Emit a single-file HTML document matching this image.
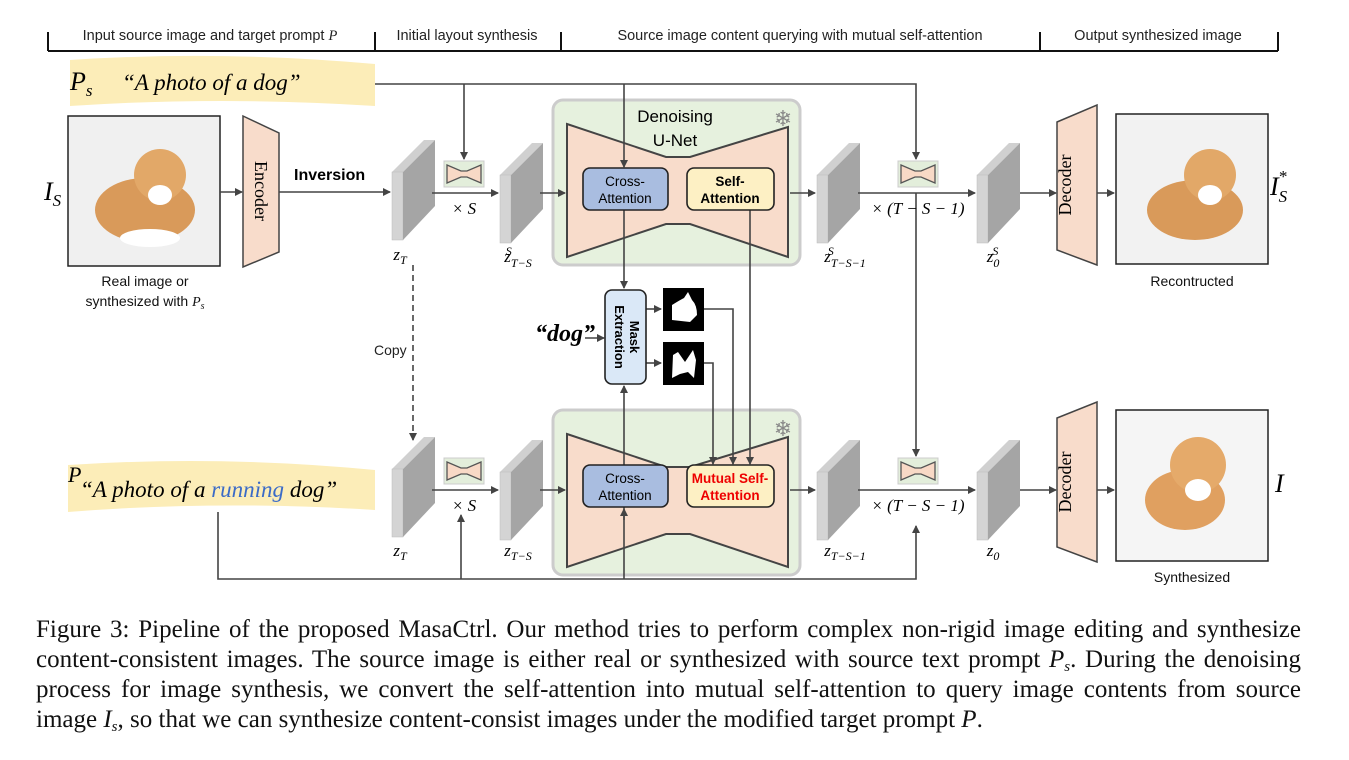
<!DOCTYPE html>
<html><head><meta charset="utf-8"><style>
body{margin:0;background:#fff;width:1349px;height:760px;overflow:hidden}
svg{position:absolute;left:0;top:0}
.cap{position:absolute;left:36px;top:615px;width:1265px;font-family:"Liberation Serif",serif;font-size:25px;line-height:30px;color:#111}
.cap div{text-align:justify;text-align-last:justify;white-space:nowrap;height:30px}
.cap div.l{text-align-last:left}
.cap sub{font-size:15px;line-height:0;vertical-align:-4px}
</style></head><body>
<svg width="1349" height="760" viewBox="0 0 1349 760" font-family="Liberation Sans, sans-serif">
<defs>
<marker id="a" markerWidth="8" markerHeight="8" refX="7" refY="4" orient="auto" markerUnits="userSpaceOnUse"><path d="M0,0 L8,4 L0,8z" fill="#444"/></marker>
<g id="slab"><path d="M0,32 L32,0 L43,0 L11,32z" fill="#d0d0d0"/><rect x="0" y="32" width="11" height="68" fill="#d4d4d4" stroke="#bbb" stroke-width="0.5"/><path d="M11,32 L43,0 L43,66 L11,100z" fill="#a5a5a5"/></g>
<g id="mini"><rect x="0" y="0" width="40" height="26" fill="#e3eedb" stroke="#ccc"/><path d="M3,4 L17,10 L23,10 L37,4 L37,22 L23,16 L17,16 L3,22z" fill="#f8d9c6" stroke="#555" stroke-width="1.3"/></g>
<g id="unet"><rect x="0" y="0" width="247" height="165" rx="10" fill="#e6f1de" stroke="#ccc" stroke-width="3"/><path d="M14,24 L113,57 L137,57 L235,27 L235,157 L137,124 L113,124 L14,157z" fill="#f8dccb" stroke="#444" stroke-width="2"/><text x="230" y="26" font-size="22" fill="#888" text-anchor="middle">❄</text></g>
</defs>
<g stroke="#111" stroke-width="2"><line x1="48" y1="51" x2="1278" y2="51"/><line x1="48" y1="32" x2="48" y2="51"/><line x1="375" y1="32" x2="375" y2="51"/><line x1="561" y1="32" x2="561" y2="51"/><line x1="1040" y1="32" x2="1040" y2="51"/><line x1="1278" y1="32" x2="1278" y2="51"/></g>
<g font-size="14.5" fill="#222" text-anchor="middle"><text x="210" y="40">Input source image and target prompt <tspan font-family="Liberation Serif" font-style="italic">P</tspan></text><text x="467" y="40">Initial layout synthesis</text><text x="800" y="40">Source image content querying with mutual self-attention</text><text x="1158" y="40">Output synthesized image</text></g>
<path d="M70,60 Q220,50 375,64 L375,106 Q220,96 70,106z" fill="#fcedb8"/>
<path d="M68,465 Q220,455 375,470 L375,510 Q220,500 68,512z" fill="#fcedb8"/>
<text x="70" y="90" font-family="Liberation Serif" font-style="italic" font-size="26">P<tspan font-size="17" dy="6">s</tspan></text>
<text x="122" y="90" font-family="Liberation Serif" font-style="italic" font-size="23">“A photo of a dog”</text>
<text x="68" y="482" font-family="Liberation Serif" font-style="italic" font-size="22">P</text>
<text x="80" y="497" font-family="Liberation Serif" font-style="italic" font-size="23">“A photo of a <tspan fill="#3b6bc7">running</tspan> dog”</text>
<rect x="68" y="116" width="152" height="150" fill="#f0f0f0" stroke="#222" stroke-width="1.5"/>
<ellipse cx="145" cy="210" rx="50" ry="32" fill="#d99a5a"/><circle cx="160" cy="175" r="26" fill="#e2a868"/><ellipse cx="160" cy="195" rx="12" ry="10" fill="#fff"/><ellipse cx="150" cy="238" rx="30" ry="9" fill="#fff"/>
<rect x="1116" y="114" width="152" height="150" fill="#f2f2f2" stroke="#222" stroke-width="1.5"/>
<ellipse cx="1195" cy="210" rx="48" ry="30" fill="#d99a5a"/><circle cx="1210" cy="175" r="26" fill="#e2a868"/><ellipse cx="1210" cy="195" rx="12" ry="10" fill="#fff"/>
<rect x="1116" y="410" width="152" height="151" fill="#f5f5f5" stroke="#222" stroke-width="1.5"/>
<ellipse cx="1185" cy="500" rx="40" ry="30" fill="#e0a060"/><circle cx="1198" cy="465" r="28" fill="#e5aa6a"/><ellipse cx="1198" cy="490" rx="13" ry="11" fill="#fff"/>
<text x="44" y="200" font-family="Liberation Serif" font-style="italic" font-size="26">I<tspan font-size="17" dy="6">S</tspan></text>
<text x="1270" y="195" font-family="Liberation Serif" font-style="italic" font-size="26">I<tspan font-size="17" dy="7">S</tspan><tspan font-size="17" dx="-9" dy="-20">*</tspan></text>
<text x="1275" y="492" font-family="Liberation Serif" font-style="italic" font-size="26">I</text>
<g font-size="14" text-anchor="middle" fill="#111"><text x="145" y="286">Real image or</text><text x="145" y="306">synthesized with <tspan font-family="Liberation Serif" font-style="italic">P<tspan font-size="10" dy="3">s</tspan></tspan></text><text x="1192" y="286">Recontructed</text><text x="1192" y="582">Synthesized</text></g>
<path d="M243,116 L279,133 L279,252 L243,267z" fill="#f8dccb" stroke="#444" stroke-width="1.5"/>
<text transform="translate(255,191) rotate(90)" font-family="Liberation Serif" font-size="18" text-anchor="middle">Encoder</text>
<path d="M1057,122 L1097,105 L1097,265 L1057,250z" fill="#f8dccb" stroke="#444" stroke-width="1.5"/>
<path d="M1057,418 L1097,402 L1097,562 L1057,547z" fill="#f8dccb" stroke="#444" stroke-width="1.5"/>
<text transform="translate(1071,185) rotate(-90)" font-family="Liberation Serif" font-size="18" text-anchor="middle">Decoder</text>
<text transform="translate(1071,482) rotate(-90)" font-family="Liberation Serif" font-size="18" text-anchor="middle">Decoder</text>
<use href="#unet" x="553" y="100"/><use href="#unet" x="553" y="410"/>
<text x="675" y="122" font-size="17" text-anchor="middle">Denoising</text><text x="675" y="146" font-size="17" text-anchor="middle">U-Net</text>
<use href="#slab" x="392" y="140"/><use href="#slab" x="500" y="143"/><use href="#slab" x="817" y="143"/><use href="#slab" x="977" y="143"/>
<use href="#slab" x="392" y="437"/><use href="#slab" x="500" y="440"/><use href="#slab" x="817" y="440"/><use href="#slab" x="977" y="440"/>
<use href="#mini" x="444" y="161"/><use href="#mini" x="444" y="458"/><use href="#mini" x="898" y="161"/><use href="#mini" x="898" y="458"/>
<g stroke="#444" stroke-width="1.6" fill="none" marker-end="url(#a)">
<path d="M220,192 L242,192"/><path d="M279,192 L390,192"/>
<path d="M432,193 L498,193"/><path d="M540,193 L565,193"/><path d="M790,193 L815,193"/><path d="M858,193 L975,193"/><path d="M1020,193 L1056,193"/><path d="M1097,193 L1114,193"/>
<path d="M432,490 L498,490"/><path d="M540,490 L565,490"/><path d="M790,490 L815,490"/><path d="M858,490 L975,490"/><path d="M1020,490 L1056,490"/><path d="M1097,490 L1114,490"/>
<path d="M375,84 L916,84 L916,159"/><path d="M464,84 L464,159"/><path d="M624,84 L624,167"/>
<path d="M916,193 L916,456"/>
<path d="M624,210 L624,288"/><path d="M750,210 L750,464"/>
<path d="M704,309 L733,309 L733,464"/><path d="M704,363 L713,363 L713,464"/>
<path d="M646,309 L661,309"/><path d="M646,363 L661,363"/>
<path d="M624,579 L624,386"/><path d="M624,520 L624,509"/>
<path d="M218,512 L218,579 L916,579 L916,526"/><path d="M461,579 L461,515"/>
<path d="M585,338 L604,338"/>
<path d="M413,265 L413,440" stroke-dasharray="6,4"/>
</g>
<rect x="583" y="168" width="85" height="42" rx="7" fill="#a9bde0" stroke="#222" stroke-width="1.6"/>
<rect x="687" y="168" width="87" height="42" rx="7" fill="#fdf0c4" stroke="#222" stroke-width="1.6"/>
<rect x="583" y="465" width="85" height="42" rx="7" fill="#a9bde0" stroke="#222" stroke-width="1.6"/>
<rect x="687" y="465" width="87" height="42" rx="7" fill="#fdf0c4" stroke="#222" stroke-width="1.6"/>
<g font-size="13.5" text-anchor="middle"><text x="625" y="186">Cross-</text><text x="625" y="203">Attention</text><text x="625" y="483">Cross-</text><text x="625" y="500">Attention</text>
<text x="730" y="186" font-weight="bold">Self-</text><text x="730" y="203" font-weight="bold">Attention</text>
<text x="730" y="483" font-weight="bold" fill="#e00">Mutual Self-</text><text x="730" y="500" font-weight="bold" fill="#e00">Attention</text></g>
<rect x="605" y="290" width="41" height="94" rx="7" fill="#dae8f7" stroke="#222" stroke-width="1.6"/>
<text transform="translate(630,337) rotate(90)" font-size="13" font-weight="bold" text-anchor="middle">Mask</text>
<text transform="translate(615,337) rotate(90)" font-size="13" font-weight="bold" text-anchor="middle">Extraction</text>
<rect x="663" y="288" width="41" height="43" fill="#000"/><path d="M672,320 L672,305 Q680,300 684,298 L688,292 L692,300 Q697,305 697,315 L690,322z" fill="#fff"/>
<rect x="663" y="342" width="41" height="43" fill="#000"/><path d="M672,378 L673,355 L678,352 L685,362 L693,350 L696,360 L694,378 L688,372 L680,374z" fill="#fff"/>
<text x="535" y="341" font-family="Liberation Serif" font-style="italic" font-weight="bold" font-size="24">“dog”</text>
<text x="374" y="355" font-size="14" fill="#222">Copy</text>
<text x="294" y="180" font-size="16" font-weight="bold">Inversion</text>
<g font-family="Liberation Serif" font-style="italic" font-size="17" text-anchor="middle">
<text x="464" y="214">× S</text><text x="464" y="511">× S</text><text x="918" y="214">× (T − S − 1)</text><text x="918" y="511">× (T − S − 1)</text>
<text x="400" y="260">z<tspan font-size="12" dy="4">T</tspan></text><text x="400" y="556">z<tspan font-size="12" dy="4">T</tspan></text>
<text x="518" y="262">z<tspan font-size="12" dy="5">T−S</tspan><tspan font-size="12" dx="-26" dy="-12">S</tspan></text>
<text x="518" y="556">z<tspan font-size="12" dy="4">T−S</tspan></text>
<text x="845" y="262">z<tspan font-size="12" dy="5">T−S−1</tspan><tspan font-size="12" dx="-38" dy="-12">S</tspan></text>
<text x="845" y="556">z<tspan font-size="12" dy="4">T−S−1</tspan></text>
<text x="993" y="262">z<tspan font-size="12" dy="5">0</tspan><tspan font-size="12" dx="-7" dy="-12">S</tspan></text>
<text x="993" y="556">z<tspan font-size="12" dy="4">0</tspan></text>
</g>
</svg>
<div class="cap">
<div>Figure 3: Pipeline of the proposed MasaCtrl. Our method tries to perform complex non-rigid image editing and synthesize</div>
<div>content-consistent images. The source image is either real or synthesized with source text prompt <i>P<sub>s</sub></i>. During the denoising</div>
<div>process for image synthesis, we convert the self-attention into mutual self-attention to query image contents from source</div>
<div class="l">image <i>I<sub>s</sub></i>, so that we can synthesize content-consist images under the modified target prompt <i>P</i>.</div>
</div>
</body></html>
